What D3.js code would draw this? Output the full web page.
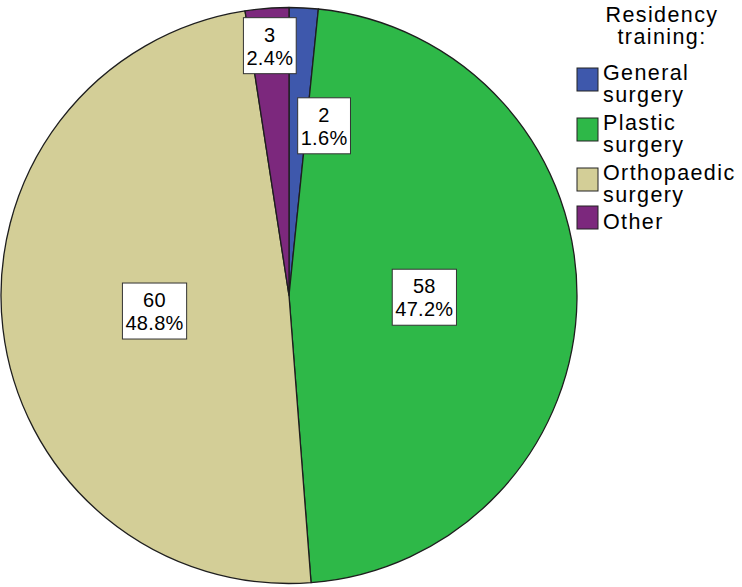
<!DOCTYPE html>
<html><head><meta charset="utf-8">
<script src="https://cdn.jsdelivr.net/npm/d3@7"></script>
<style>html,body{margin:0;padding:0;background:#fff;}</style>
</head><body>
<svg id="chart" width="742" height="587"></svg>
<script>
const categories = ["General surgery", "Plastic surgery", "Orthopaedic surgery", "Other"];
const legendLines = [["General", "surgery"], ["Plastic", "surgery"], ["Orthopaedic", "surgery"], ["Other"]];
const counts = [2, 58, 60, 3];
const percentLabels = ["1.6%", "47.2%", "48.8%", "2.4%"];
const colors = ["#3e58ac", "#2eb848", "#d3ce97", "#7c287d"];
const legendTitle = ["Residency", "training:"];
// label layout: radius fraction and anchor of box relative to centroid
const labelRadius = [0.59, 0.47, 0.47, 0.87];
const labelAnchor = ["start", "middle", "middle", "middle"];

const svg = d3.select("#chart");
const cx = 289, cy = 295.5, R = 288;
const g = svg.append("g").attr("transform", `translate(${cx},${cy})`);
const pie = d3.pie().sort(null).value(d => d.v);
const data = categories.map((c, i) => ({c, v: counts[i], i}));
const arcs = pie(data);
const arc = d3.arc().innerRadius(0).outerRadius(R);

g.selectAll("path.slice").data(arcs).enter().append("path")
  .attr("class", "slice")
  .attr("d", arc)
  .attr("fill", d => colors[d.data.i])
  .attr("stroke", "#1e1e1e")
  .attr("stroke-width", 1.3)
  .attr("stroke-linejoin", "round");

const labFont = "'Liberation Sans', Arial, sans-serif";
arcs.forEach(a => {
  const i = a.data.i;
  const r = R * labelRadius[i];
  const [x, y] = d3.arc().innerRadius(r).outerRadius(r).centroid(a);
  const lg = g.append("g");
  const txt = lg.append("text")
    .attr("font-family", labFont).attr("font-size", 20).attr("letter-spacing", 0.3)
    .attr("text-anchor", "middle").attr("fill", "#000");
  txt.append("tspan").attr("x", 0).attr("y", 0).text(counts[i]);
  txt.append("tspan").attr("x", 0).attr("y", 23).text(percentLabels[i]);
  const bb = txt.node().getBBox();
  const padX = 3;
  const top = -24, bottom = 23 + 9;
  const bw = bb.width + 2 * padX;
  lg.insert("rect", "text")
    .attr("x", bb.x - padX).attr("y", top)
    .attr("width", bw).attr("height", bottom - top)
    .attr("fill", "#fff").attr("stroke", "#333").attr("stroke-width", 1);
  const bcx = bb.x + bb.width / 2, bcy = (top + bottom) / 2;
  let tx = x - bcx, ty = y - bcy;
  if (labelAnchor[i] === "start") tx = x - (bb.x - padX);
  lg.attr("transform", `translate(${tx},${ty})`);
});

// Legend
const legFont = "'Liberation Sans', Arial, sans-serif";
const leg = svg.append("g");
const title = leg.append("text")
  .attr("text-anchor", "middle")
  .attr("font-family", legFont).attr("font-size", 21.5).attr("letter-spacing", 1.4)
  .attr("fill", "#000");
legendTitle.forEach((t, k) => {
  title.append("tspan").attr("x", 662).attr("y", 21.5 + k * 22).text(t);
});

const itemY = [80, 130, 180, 229];
categories.forEach((c, i) => {
  leg.append("rect")
    .attr("x", 577).attr("y", itemY[i] - 12 + (i === 3 ? -11 : 0))
    .attr("width", 21).attr("height", 23)
    .attr("fill", colors[i]).attr("stroke", "#222").attr("stroke-width", 1);
  const t = leg.append("text")
    .attr("font-family", legFont).attr("font-size", 21.5).attr("letter-spacing", 1.4)
    .attr("fill", "#000");
  legendLines[i].forEach((ln, k) => {
    t.append("tspan").attr("x", 603).attr("y", itemY[i] + k * 22).text(ln);
  });
});
</script>
</body></html>
